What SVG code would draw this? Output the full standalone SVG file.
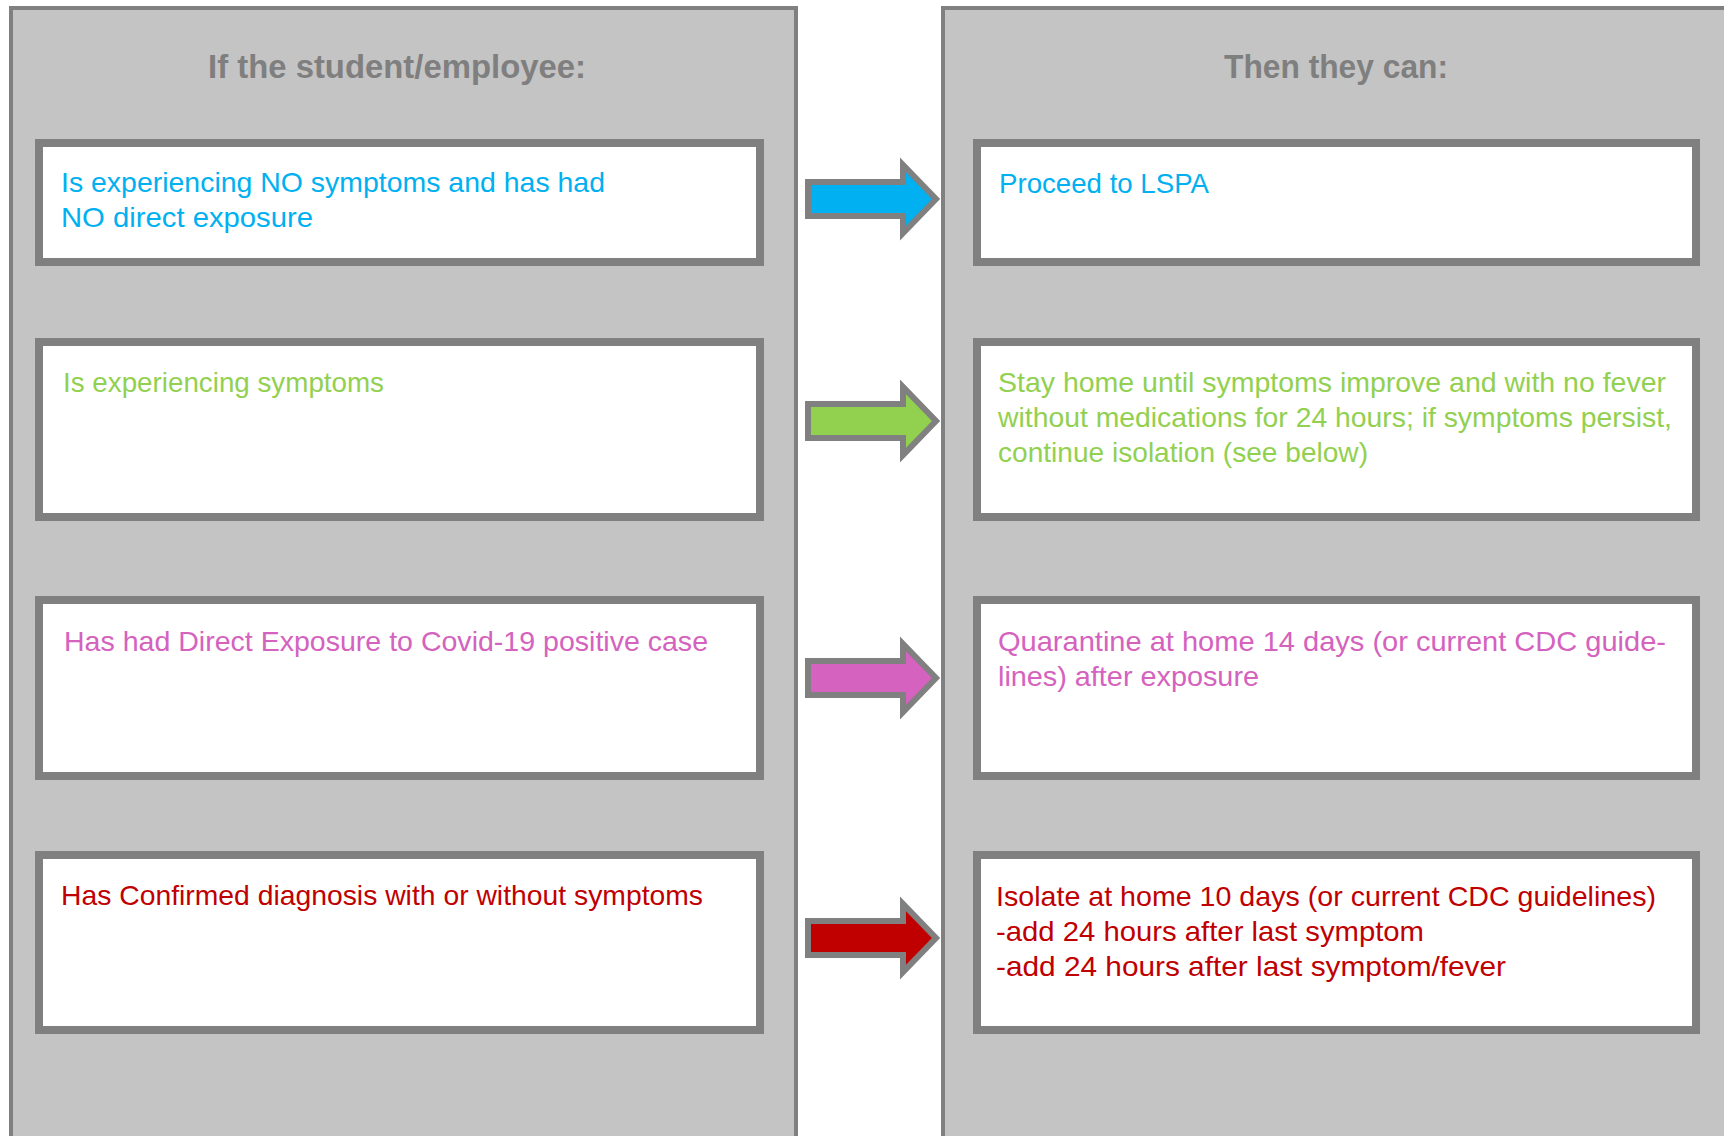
<svg xmlns="http://www.w3.org/2000/svg" width="1724" height="1136" viewBox="0 0 1724 1136">
<style>
.panel{fill:#C4C4C4;stroke:#808080;stroke-width:4}
.box{fill:#FFFFFF;stroke:#808080;stroke-width:8}
.title{font-family:"Liberation Sans",Arial,sans-serif;font-weight:bold;font-size:33px;fill:#7F7F7F}
.t{font-family:"Liberation Sans",Arial,sans-serif;font-size:28px}
.blue{fill:#00B0F0}.green{fill:#92D050}.pink{fill:#D462BE}.red{fill:#C00000}
.arrow{stroke:#808080;stroke-width:6;stroke-linejoin:miter}
</style>
<defs>
<path id="arr" d="M808,-17 L903,-17 L903,-34 L936,0 L903,34 L903,17 L808,17 Z"/>
</defs>
<rect width="1724" height="1136" fill="#FFFFFF"/>
<g id="panel-left">
<rect class="panel" x="11" y="8" width="785" height="1150"/>
<text class="title" x="208" y="78" textLength="378" lengthAdjust="spacingAndGlyphs">If the student/employee:</text>
</g>
<g id="panel-right">
<rect class="panel" x="943" y="8" width="800" height="1150"/>
<text class="title" x="1224" y="78" textLength="224" lengthAdjust="spacingAndGlyphs">Then they can:</text>
</g>
<g id="cond-1">
<rect class="box" x="39" y="143" width="721" height="119"/>
<text class="t blue" x="61" y="192" textLength="544" lengthAdjust="spacingAndGlyphs">Is experiencing NO symptoms and has had</text>
<text class="t blue" x="61" y="227" textLength="252" lengthAdjust="spacingAndGlyphs">NO direct exposure</text>
</g>
<g id="cond-2">
<rect class="box" x="39" y="342" width="721" height="175"/>
<text class="t green" x="63" y="392" textLength="321" lengthAdjust="spacingAndGlyphs">Is experiencing symptoms</text>
</g>
<g id="cond-3">
<rect class="box" x="39" y="600" width="721" height="176"/>
<text class="t pink" x="64" y="651" textLength="644" lengthAdjust="spacingAndGlyphs">Has had Direct Exposure to Covid-19 positive case</text>
</g>
<g id="cond-4">
<rect class="box" x="39" y="855" width="721" height="175"/>
<text class="t red" x="61" y="905" textLength="642" lengthAdjust="spacingAndGlyphs">Has Confirmed diagnosis with or without symptoms</text>
</g>
<g id="action-1">
<rect class="box" x="977" y="143" width="719" height="119"/>
<text class="t blue" x="999" y="193" textLength="210" lengthAdjust="spacingAndGlyphs">Proceed to LSPA</text>
</g>
<g id="action-2">
<rect class="box" x="977" y="342" width="719" height="175"/>
<text class="t green" x="998" y="392" textLength="668" lengthAdjust="spacingAndGlyphs">Stay home until symptoms improve and with no fever</text>
<text class="t green" x="998" y="427" textLength="674" lengthAdjust="spacingAndGlyphs">without medications for 24 hours; if symptoms persist,</text>
<text class="t green" x="998" y="462" textLength="370" lengthAdjust="spacingAndGlyphs">continue isolation (see below)</text>
</g>
<g id="action-3">
<rect class="box" x="977" y="600" width="719" height="176"/>
<text class="t pink" x="998" y="651" textLength="668" lengthAdjust="spacingAndGlyphs">Quarantine at home 14 days (or current CDC guide-</text>
<text class="t pink" x="998" y="686" textLength="261" lengthAdjust="spacingAndGlyphs">lines) after exposure</text>
</g>
<g id="action-4">
<rect class="box" x="977" y="855" width="719" height="175"/>
<text class="t red" x="996" y="906" textLength="660" lengthAdjust="spacingAndGlyphs">Isolate at home 10 days (or current CDC guidelines)</text>
<text class="t red" x="996" y="941" textLength="428" lengthAdjust="spacingAndGlyphs">-add 24 hours after last symptom</text>
<text class="t red" x="996" y="976" textLength="510" lengthAdjust="spacingAndGlyphs">-add 24 hours after last symptom/fever</text>
</g>
<g id="connectors">
<use href="#arr" class="arrow blue" transform="translate(0,199)"/>
<use href="#arr" class="arrow green" transform="translate(0,421)"/>
<use href="#arr" class="arrow pink" transform="translate(0,678)"/>
<use href="#arr" class="arrow red" transform="translate(0,938)"/>
</g>
</svg>
